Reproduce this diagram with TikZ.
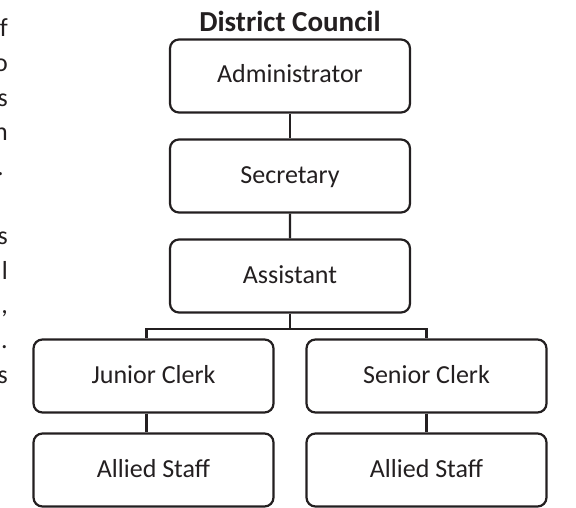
\documentclass[tikz,border=0pt]{standalone}
\usepackage{fontspec}
\setmainfont{Carlito}
\usetikzlibrary{positioning}
\definecolor{ink}{RGB}{35,31,32}

\begin{document}
\begin{tikzpicture}[
        x=1pt, y=1pt,
        box/.style={draw=ink, text=ink, line width=2.2pt, rounded corners=9pt,
            minimum width=240pt, minimum height=73pt, inner sep=0pt,
            text height=19pt, text depth=5pt,
            font=\fontsize{26pt}{31pt}\selectfont},
        frag/.style={anchor=base east, text=ink, inner sep=0pt,
            font=\fontsize{26pt}{31pt}\selectfont},
        edge from parent/.style={draw=ink, line width=2.2pt},
        level distance=100pt,
        level 3/.style={sibling distance=273pt,
            edge from parent path={(\tikzparentnode.south) -- ++(0,-15pt) -| (\tikzchildnode.north)}},
        level 4/.style={level distance=94pt},
    ]
    \useasboundingbox (0,0) rectangle (576,-508);

    % cut-off end of the text column on the left
    \node[frag] (frag1) at (8,-37) {f};
    \node[frag] (frag2) at (8,-71.6) {o};
    \node[frag] (frag3) at (8,-106.2) {s};
    \node[frag] (frag4) at (8,-140.8) {n};
    \node[frag] (frag5) at (4,-175.4) {.};
    \node[frag] (frag6) at (8,-244.6) {s};
    \node[frag] (frag7) at (8,-279.2) {l};
    \node[frag] (frag8) at (8,-313.8) {,};
    \node[frag] (frag9) at (8,-348.4) {.};
    \node[frag] (frag10) at (8,-383) {s};

    \node[box] (admin) at (290,-76) {Administrator}
    child {
        node[box] (secretary) {Secretary}
        child {
            node[box] (assistant) {Assistant}
            child[edge from parent path={(\tikzparentnode.south) -- ++(0,-15pt) -| ([xshift=-7pt]\tikzchildnode.north)}] {
                node[box] (junior) {Junior Clerk}
                child[edge from parent path={([xshift=-7pt]\tikzparentnode.south) -- ([xshift=-7pt]\tikzchildnode.north)}] {
                    node[box] (juniorstaff) {Allied Staff}
                }
            }
            child {
                node[box] (senior) {Senior Clerk}
                child {
                    node[box] (seniorstaff) {Allied Staff}
                }
            }
        }
    };

    \node[above=7pt of admin.north, anchor=base, text=ink,
        font=\fontsize{29pt}{34pt}\selectfont\bfseries] (title) {District Council};
\end{tikzpicture}
\end{document}
